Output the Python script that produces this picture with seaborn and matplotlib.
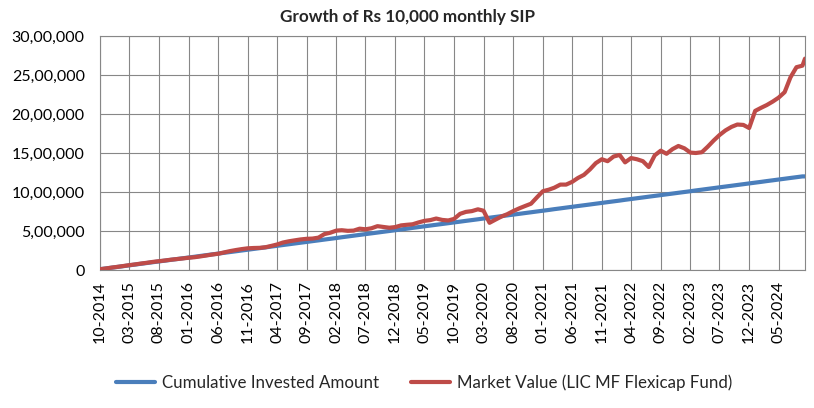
import pandas as pd
import seaborn as sns
import matplotlib
matplotlib.use("Agg")
from matplotlib import pyplot as plt

# monthly SIP dates (10-2014 .. 09-2024) plus the final valuation date
months = list(pd.date_range("2014-10-01", "2024-09-01", freq="MS"))
valuation_date = pd.Timestamp("2024-09-14")

# cumulative invested amount, in lakh rupees
invested_lakh = [
    0.1, 0.2, 0.3, 0.4, 0.5, 0.6, 0.7, 0.8, 0.9, 1.0,
    1.1, 1.2, 1.3, 1.4, 1.5, 1.6, 1.7, 1.8, 1.9, 2.0,
    2.1, 2.2, 2.3, 2.4, 2.5, 2.6, 2.7, 2.8, 2.9, 3.0,
    3.1, 3.2, 3.3, 3.4, 3.5, 3.6, 3.7, 3.8, 3.9, 4.0,
    4.1, 4.2, 4.3, 4.4, 4.5, 4.6, 4.7, 4.8, 4.9, 5.0,
    5.1, 5.2, 5.3, 5.4, 5.5, 5.6, 5.7, 5.8, 5.9, 6.0,
    6.1, 6.2, 6.3, 6.4, 6.5, 6.6, 6.7, 6.8, 6.9, 7.0,
    7.1, 7.2, 7.3, 7.4, 7.5, 7.6, 7.7, 7.8, 7.9, 8.0,
    8.1, 8.2, 8.3, 8.4, 8.5, 8.6, 8.7, 8.8, 8.9, 9.0,
    9.1, 9.2, 9.3, 9.4, 9.5, 9.6, 9.7, 9.8, 9.9, 10.0,
    10.1, 10.2, 10.3, 10.4, 10.5, 10.6, 10.7, 10.8, 10.9, 11.0,
    11.1, 11.2, 11.3, 11.4, 11.5, 11.6, 11.7, 11.8, 11.9, 12.0,
    12.0,
]

# market value of the fund, in lakh rupees
market_lakh = [
    0.10, 0.20, 0.31, 0.41, 0.52, 0.62, 0.72, 0.83, 0.93, 1.04,
    1.13, 1.22, 1.32, 1.40, 1.48, 1.57, 1.64, 1.74, 1.86, 1.98,
    2.08, 2.25, 2.42, 2.56, 2.68, 2.78, 2.82, 2.84, 2.92, 3.08,
    3.27, 3.52, 3.68, 3.80, 3.92, 4.00, 4.03, 4.15, 4.60, 4.78,
    5.05, 5.10, 5.02, 5.05, 5.30, 5.22, 5.35, 5.62, 5.52, 5.42,
    5.50, 5.72, 5.80, 5.86, 6.10, 6.30, 6.40, 6.60, 6.42, 6.35,
    6.55, 7.20, 7.45, 7.55, 7.78, 7.60, 6.05, 6.45, 6.85, 7.15,
    7.55, 7.90, 8.20, 8.50, 9.30, 10.10, 10.30, 10.55, 10.95, 10.95,
    11.30, 11.80, 12.20, 12.90, 13.70, 14.20, 13.95, 14.55, 14.75, 13.80,
    14.35, 14.20, 13.95, 13.20, 14.70, 15.30, 14.90, 15.50, 15.90, 15.60,
    15.05, 15.00, 15.10, 15.80, 16.60, 17.30, 17.90, 18.35, 18.65, 18.60,
    18.20, 20.40, 20.80, 21.15, 21.60, 22.10, 22.80, 24.70, 26.00, 26.20,
    27.10,
]

tick_dates = list(pd.date_range("2014-10-01", "2024-05-01", freq="5MS"))

df = pd.DataFrame({
    "date": months + [valuation_date],
    "invested": [v * 100000 for v in invested_lakh],
    "market": [v * 100000 for v in market_lakh],
})


def indian_format(v, pos=None):
    n = int(round(v))
    if n == 0:
        return "0"
    s = str(n)
    last3, rest = s[-3:], s[:-3]
    groups = []
    while len(rest) > 2:
        groups.insert(0, rest[-2:])
        rest = rest[:-2]
    if rest:
        groups.insert(0, rest)
    return ",".join(groups + [last3])


sns.set_style("white")
plt.rcParams["font.family"] = ["Lato", "DejaVu Sans"]

grid_color = "#878787"
blue = "#4A7EBB"
red = "#BE4B48"

fig = plt.figure(figsize=(8.14, 4.08), dpi=100)
ax = fig.add_axes([100 / 814, 138 / 408, 705 / 814, 234 / 408])

sns.lineplot(df, x="date", y="invested", color=blue, linewidth=3.0,
             label="Cumulative Invested Amount", ax=ax, zorder=3)
sns.lineplot(df, x="date", y="market", color=red, linewidth=3.0,
             label="Market Value (LIC MF Flexicap Fund)", ax=ax, zorder=4)

ax.set_xlim(df["date"].iloc[0], df["date"].iloc[-1])
ax.set_ylim(0, 3000000)
ax.set_yticks(range(0, 3000001, 500000))
ax.yaxis.set_major_formatter(plt.FuncFormatter(indian_format))
ax.set_xticks(tick_dates)
ax.set_xticklabels([d.strftime("%m-%Y") for d in tick_dates], rotation=90)

ax.grid(True, color=grid_color, linewidth=0.8)
ax.set_axisbelow(True)
for side in ["left", "bottom", "right", "top"]:
    ax.spines[side].set_visible(True)
    ax.spines[side].set_color(grid_color)
    ax.spines[side].set_linewidth(0.8)
ax.tick_params(axis="both", direction="out", length=4, width=0.8,
               color=grid_color, labelsize=11.5, labelcolor="black")
ax.tick_params(axis="x", pad=4)
ax.tick_params(axis="y", pad=7)
ax.set_xlabel("")
ax.set_ylabel("")

handles, labels = ax.get_legend_handles_labels()
ax.get_legend().remove()
fig.legend(handles, labels, loc="center", bbox_to_anchor=(0.521, 0.061),
           ncol=2, frameon=False, fontsize=12.2, handlelength=2.3,
           columnspacing=1.9, handletextpad=0.4)

fig.text(0.5, 0.958, "Growth of Rs 10,000 monthly SIP", ha="center",
         va="center", fontsize=12.3, fontweight="bold")

plt.savefig("out.png", dpi=100)
